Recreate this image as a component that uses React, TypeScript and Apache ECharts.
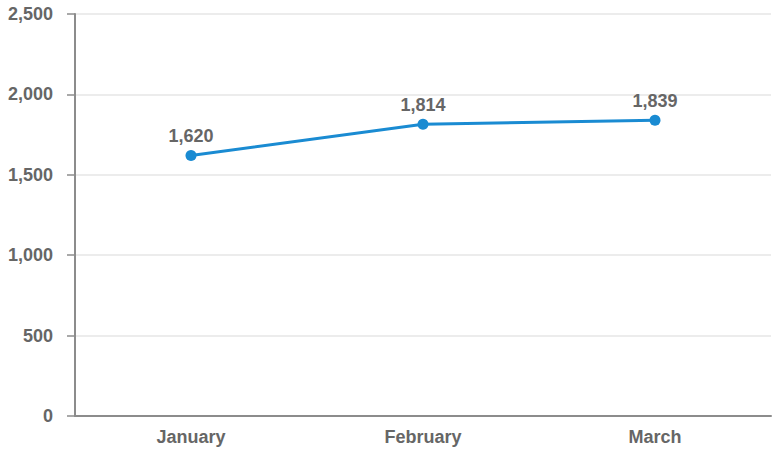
import React, { useEffect, useRef } from "react";
import * as echarts from "echarts";

const categories = ["January", "February", "March"];
const values = [1620, 1814, 1839];
const yTicks = { min: 0, max: 2500, interval: 500 };

export default function App() {
  const ref = useRef<HTMLDivElement>(null);
  useEffect(() => {
    const chart = echarts.init(ref.current!, null, { renderer: "svg" });
    const font = { fontFamily: "Liberation Sans, Arial, sans-serif", fontWeight: "bold" as const, fontSize: 18, color: "#666666" };
    chart.setOption({
      animation: false,
      grid: { left: 75, right: 8, top: 14, bottom: 37, containLabel: false },
      xAxis: {
        type: "category",
        data: categories,
        boundaryGap: true,
        axisLine: { lineStyle: { color: "#8c8c8c", width: 2 } },
        axisTick: { alignWithLabel: true, length: 5, lineStyle: { color: "#8c8c8c", width: 1.5 } },
        axisLabel: { ...font, margin: 12 },
        splitLine: { show: false },
      },
      yAxis: {
        type: "value",
        min: yTicks.min,
        max: yTicks.max,
        interval: yTicks.interval,
        axisLine: { show: true, lineStyle: { color: "#8c8c8c", width: 2 } },
        axisTick: { show: true, length: 8, lineStyle: { color: "#8c8c8c", width: 1.5 } },
        axisLabel: {
          ...font,
          margin: 22,
          formatter: (v: number) => v.toLocaleString("en-US"),
        },
        splitLine: { lineStyle: { color: "#e6e6e6", width: 1.5 } },
      },
      series: [
        {
          type: "line",
          data: values,
          symbol: "circle",
          symbolSize: 11,
          lineStyle: { color: "#1a8bd2", width: 3 },
          itemStyle: { color: "#1a8bd2" },
          label: {
            show: true,
            position: "top",
            distance: 5,
            ...font,
            formatter: (p: any) => Number(p.value).toLocaleString("en-US"),
          },
        },
      ],
    });
    return () => chart.dispose();
  }, []);
  return <div ref={ref} style={{ width: 779, height: 453, position: "absolute", left: 0, top: 0 }} />;
}
